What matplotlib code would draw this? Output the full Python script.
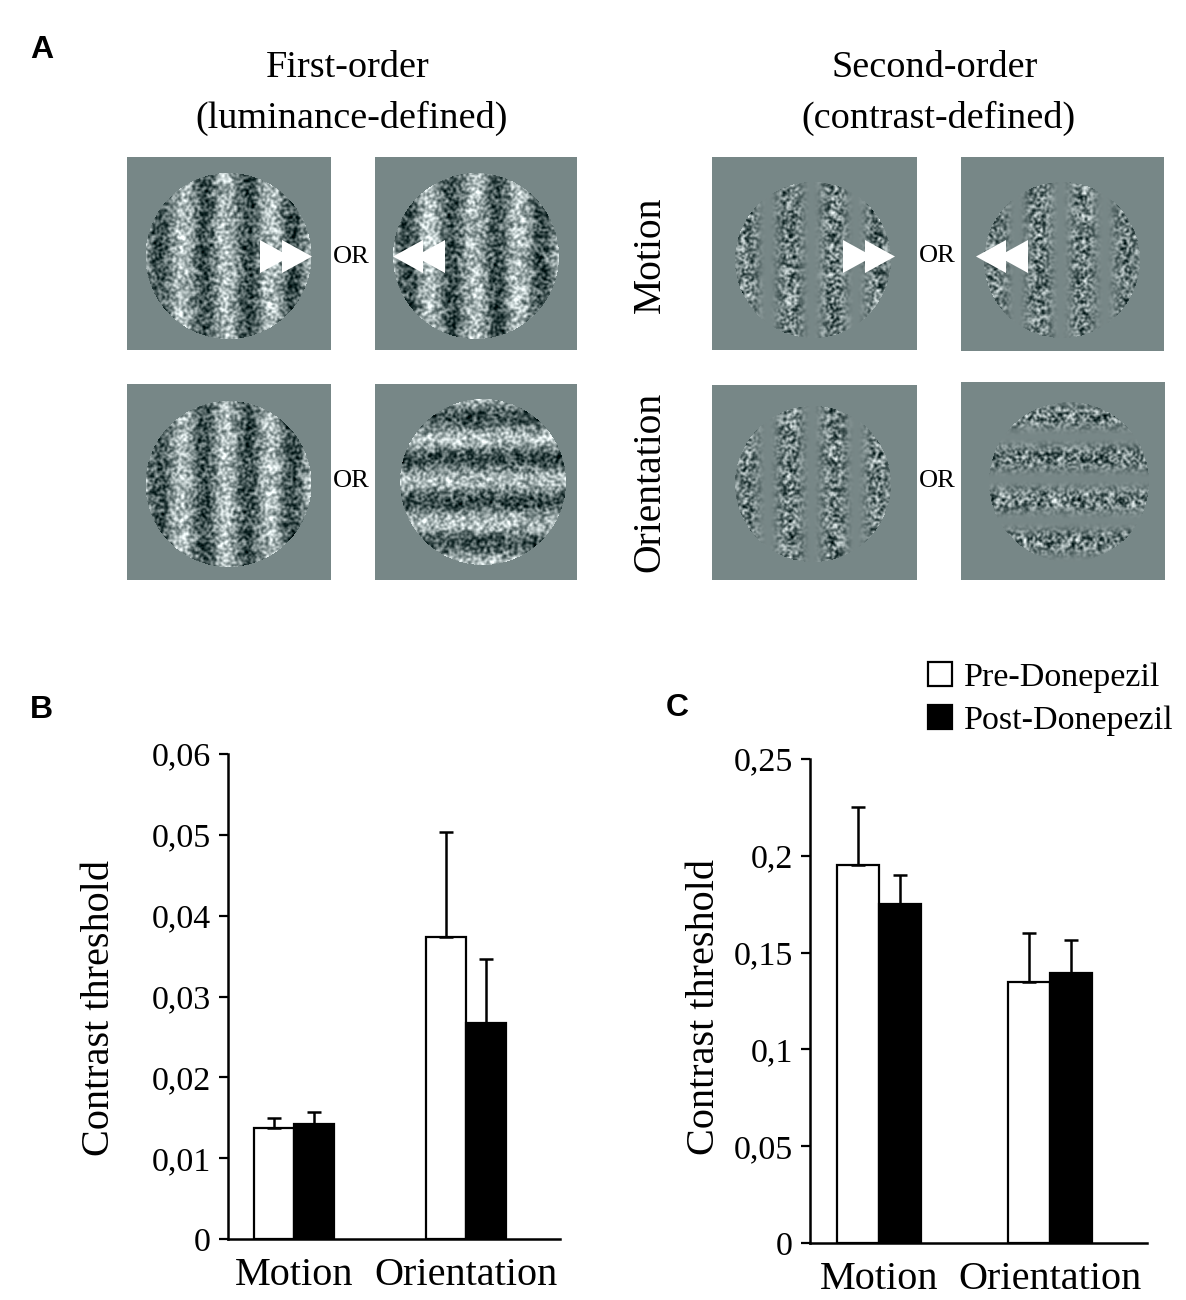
import numpy as np
import matplotlib
matplotlib.use("Agg")
import matplotlib.pyplot as plt
from matplotlib.patches import Polygon

# ---------------- data ----------------
categories = ["Motion", "Orientation"]
series_labels = ["Pre-Donepezil", "Post-Donepezil"]

first_pre = [0.0137, 0.0373]
first_pre_err = [0.0013, 0.0131]
first_post = [0.0142, 0.0267]
first_post_err = [0.0015, 0.0080]

second_pre = [0.195, 0.135]
second_pre_err = [0.030, 0.025]
second_post = [0.175, 0.1395]
second_post_err = [0.015, 0.017]

b_ticks = [0, 0.01, 0.02, 0.03, 0.04, 0.05, 0.06]
b_ticklabels = ["0", "0,01", "0,02", "0,03", "0,04", "0,05", "0,06"]
c_ticks = [0, 0.05, 0.1, 0.15, 0.2, 0.25]
c_ticklabels = ["0", "0,05", "0,1", "0,15", "0,2", "0,25"]

SERIF = "Liberation Serif"
SANS = "Liberation Sans"

W, H = 1186, 1300
fig = plt.figure(figsize=(W / 100, H / 100), dpi=100)
fig.patch.set_facecolor("white")

# ---------------- panel A (illustration) ----------------
ax0 = fig.add_axes([0, 0, 1, 1])
ax0.set_xlim(0, W)
ax0.set_ylim(H, 0)
ax0.axis("off")

BG = np.array([0.47, 0.53, 0.53])


def texture(h, w, seed):
    hh, ww = h // 2 + 2, w // 2 + 2
    yy, xx = np.mgrid[0:hh, 0:ww]
    v = np.sin(xx * 12.9898 + yy * 78.233 + seed * 37.719) * 43758.5453
    v = v - np.floor(v)
    v = np.repeat(np.repeat(v, 2, axis=0), 2, axis=1)[:h, :w]
    p = np.pad(v, 1, mode="edge")
    b = sum(p[i:i + h, j:j + w] for i in range(3) for j in range(3)) / 9.0
    b = (b - b.mean()) / b.std()
    return b


def stimulus(x0, x1, y0, y1, cx, cy, r, period, ref, orient, kind, seed):
    w = int(round(x1 - x0))
    h = int(round(y1 - y0))
    yy, xx = np.mgrid[0:h, 0:w]
    X = x0 + xx + 0.5
    Y = y0 + yy + 0.5
    circ = ((X - cx) ** 2 + (Y - cy) ** 2) <= r ** 2
    coord = X if orient == "v" else Y
    n = texture(h, w, seed)
    ph = np.cos(2 * np.pi * (coord - ref) / period)
    if kind == "first":
        g = 0.5 + circ * (0.23 * ph + 0.13 * n)
    else:
        env = ((1 - ph) / 2) ** 1.1
        g = 0.5 + circ * env * (0.18 * n - 0.04)
    g = np.clip(g, 0, 1)
    rgb = BG[None, None, :] + (g[..., None] - 0.5) * np.array([1.05, 1.0, 1.0])
    rgb = np.clip(rgb, 0, 1)
    ax0.imshow(rgb, extent=(x0, x1, y1, y0), aspect="auto",
               interpolation="bilinear", zorder=1)


# first-order stimuli
stimulus(127, 331, 157, 350, 228.5, 256, 83, 44.3, 226.5, "v", "first", 1)
stimulus(375, 577, 157, 350, 476, 256, 83, 44.3, 474.5, "v", "first", 2)
stimulus(127, 331, 384, 580, 228.5, 484, 83, 44.3, 226.0, "v", "first", 3)
stimulus(375, 577, 384, 580, 483, 482, 83, 42.0, 480.5, "h", "first", 4)
# second-order stimuli
stimulus(712, 917, 157, 350, 813, 260, 78, 44.0, 812, "v", "second", 5)
stimulus(961, 1164, 157, 351, 1062, 260, 78, 44.0, 1061, "v", "second", 6)
stimulus(712, 917, 385, 580, 813, 484, 78, 44.0, 812, "v", "second", 7)
stimulus(961, 1165, 382, 580, 1069, 482, 80, 42.0, 479, "h", "second", 8)


def arrows(xbase, direction, yc=256.5, tw=30, gap=22, hh=16.5):
    for k in range(2):
        b = xbase + direction * k * gap
        tip = b + direction * tw
        poly = Polygon([[b, yc - hh], [b, yc + hh], [tip, yc]], closed=True,
                       facecolor="white", edgecolor="none", zorder=3)
        ax0.add_patch(poly)


arrows(260, 1)
arrows(445, -1)
arrows(843, 1)
arrows(1028, -1)

tkw = dict(family=SERIF, ha="center", va="center", color="black")
ax0.text(348, 68, "First-order", fontsize=27.5, **tkw)
ax0.text(352, 118, "(luminance-defined)", fontsize=27.5, **tkw)
ax0.text(935, 68, "Second-order", fontsize=27.5, **tkw)
ax0.text(938, 118, "(contrast-defined)", fontsize=27.5, **tkw)
ax0.text(650, 255, "Motion", fontsize=28.5, rotation=90, **tkw)
ax0.text(650, 482, "Orientation", fontsize=28.5, rotation=90, **tkw)
for (ox, oy) in [(351, 257), (351, 481), (937, 256), (937, 481)]:
    ax0.text(ox, oy, "OR", fontsize=19, **tkw)

lkw = dict(family=SANS, fontweight="bold", fontsize=23, ha="center",
           va="center", color="black")
ax0.text(41.5, 50, "A", **lkw)
ax0.text(41, 710, "B", **lkw)
ax0.text(677, 708, "C", **lkw)


# ---------------- bar panels ----------------
def bar_panel(rect_px, pre, pre_err, post, post_err, ticks, ticklabels,
              xlim, width, ylab_xy):
    l, r, top, bot = rect_px
    ax = fig.add_axes([l / W, 1 - bot / H, (r - l) / W, (bot - top) / H])
    x = np.arange(len(categories))
    zeros = np.zeros(len(categories))
    ekw = dict(elinewidth=1.8, capthick=1.8, ecolor="black")
    b1 = ax.bar(x - width / 2, pre, width, color="white", edgecolor="black",
                linewidth=1.6, yerr=[zeros, pre_err], capsize=5,
                error_kw=ekw, label=series_labels[0])
    b2 = ax.bar(x + width / 2, post, width, color="black", edgecolor="black",
                linewidth=1.6, yerr=[zeros, post_err], capsize=5,
                error_kw=ekw, label=series_labels[1])
    ax.set_xlim(*xlim)
    ax.set_ylim(ticks[0], ticks[-1])
    ax.set_yticks(ticks)
    ax.set_yticklabels(ticklabels, family=SERIF, fontsize=24.5)
    ax.set_xticks(x)
    ax.set_xticklabels(categories, family=SERIF, fontsize=29)
    ax.tick_params(axis="x", length=0, pad=13)
    ax.tick_params(axis="y", direction="out", length=6.5, width=1.6, pad=6)
    for s in ["top", "right"]:
        ax.spines[s].set_visible(False)
    for s in ["left", "bottom"]:
        ax.spines[s].set_linewidth(1.8)
    ax.set_ylabel("Contrast threshold", family=SERIF, fontsize=29)
    ax.yaxis.set_label_coords(*ylab_xy)
    ax.patch.set_alpha(0)
    return ax, b1, b2


axB, _, _ = bar_panel((228, 560, 754, 1239), first_pre, first_pre_err,
                      first_post, first_post_err, b_ticks, b_ticklabels,
                      (-0.384, 1.547), 0.235, (-0.331, 0.476))
axC, hb1, hb2 = bar_panel((810, 1147, 759, 1243), second_pre, second_pre_err,
                          second_post, second_post_err, c_ticks, c_ticklabels,
                          (-0.404, 1.567), 0.247, (-0.258, 0.488))

fig.legend(handles=[hb1, hb2], labels=series_labels, loc="upper left",
           bbox_to_anchor=(928 / W, 1 - 662 / H), frameon=False,
           prop=dict(family=SERIF, size=24.5), handlelength=0.7,
           handleheight=0.7, handletextpad=0.35, labelspacing=0.37,
           borderpad=0, borderaxespad=0)

fig.savefig("out.png", dpi=100, facecolor="white")
